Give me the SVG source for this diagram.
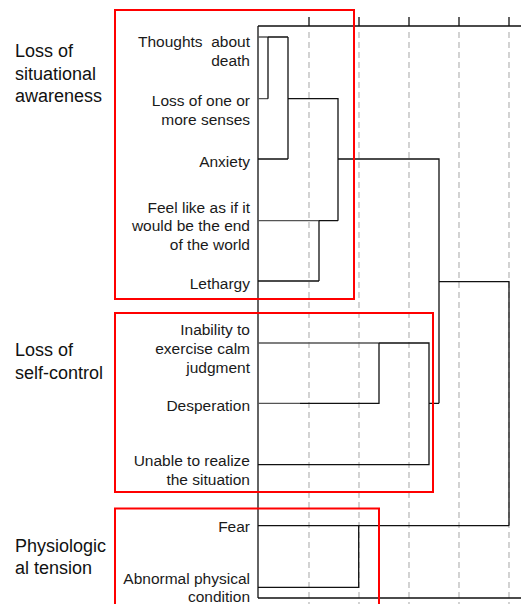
<svg xmlns="http://www.w3.org/2000/svg" width="521" height="604" viewBox="0 0 521 604">
<style>
.lbl{font-family:"Liberation Sans",Arial,sans-serif;font-size:15.5px;fill:#1a1a1a;text-anchor:end}
.grp{font-family:"Liberation Sans",Arial,sans-serif;font-size:18px;fill:#111}
.ln{fill:none;stroke:#111;stroke-width:1.3}
.lg{fill:none;stroke:#555;stroke-width:1.3}
.ax{fill:none;stroke:#111;stroke-width:1.3}
.dash{fill:none;stroke:#c8c8c8;stroke-width:1.6;stroke-dasharray:6 4}
.box{fill:none;stroke:#ff0000;stroke-width:2}
</style>
<rect width="521" height="604" fill="#fff"/>
<g id="grid">
<path class="dash" d="M309,32V604M359,32V604M409,32V604M459,32V604M509,32V604"/>
</g>
<g id="axes">
<path class="ax" d="M258,26V598M258,26H521M258,598H521"/>
<path class="ax" d="M309,17V26M359,17V26M409,17V26M459,17V26M509,17V26"/>
</g>
<g id="connectors">
<path class="lg" d="M258,37H268M258,98.7H268M258,220.7H319M258,343H379M258,403.3H300"/>
<path class="ln" d="M268,37H288M268,37V98.7M288,37V159M258,159H288M288,98.7H338V220.7M319,220.7H338M319,220.7V281M258,281H319"/>
<path class="ln" d="M338,159H439V403.3M439,281.7H509V525.7M258,525.7H509M358.7,525.7V587.3H258"/>
<path class="ln" d="M379,343H429V464.7H258M379,343V403.3H300M429,403.3H439"/>
</g>
<g id="group-situational">
<rect class="box" x="115" y="10" width="239" height="289"/>
<text class="grp" x="15" y="57">Loss of</text>
<text class="grp" x="15" y="79.5">situational</text>
<text class="grp" x="15" y="102">awareness</text>
</g>
<g id="group-selfcontrol">
<rect class="box" x="115" y="313" width="318" height="179"/>
<text class="grp" x="15" y="356">Loss of</text>
<text class="grp" x="15" y="378.5">self-control</text>
</g>
<g id="group-physio">
<rect class="box" x="115" y="508.5" width="264" height="100"/>
<text class="grp" x="15" y="552">Physiologic</text>
<text class="grp" x="15" y="574">al tension</text>
</g>
<g id="n-thoughts"><text class="lbl" x="250" y="47" xml:space="preserve">Thoughts  about</text><text class="lbl" x="250" y="66">death</text></g>
<g id="n-senses"><text class="lbl" x="250" y="106">Loss of one or</text><text class="lbl" x="250" y="125">more senses</text></g>
<g id="n-anxiety"><text class="lbl" x="250" y="167">Anxiety</text></g>
<g id="n-endworld"><text class="lbl" x="250" y="212.5">Feel like as if it</text><text class="lbl" x="250" y="231">would be the end</text><text class="lbl" x="250" y="249.5">of the world</text></g>
<g id="n-lethargy"><text class="lbl" x="250" y="289">Lethargy</text></g>
<g id="n-inability"><text class="lbl" x="250" y="335">Inability to</text><text class="lbl" x="250" y="354">exercise calm</text><text class="lbl" x="250" y="373">judgment</text></g>
<g id="n-desperation"><text class="lbl" x="250" y="411">Desperation</text></g>
<g id="n-unable"><text class="lbl" x="250" y="466">Unable to realize</text><text class="lbl" x="250" y="485">the situation</text></g>
<g id="n-fear"><text class="lbl" x="250" y="532">Fear</text></g>
<g id="n-abnormal"><text class="lbl" x="250" y="584">Abnormal physical</text><text class="lbl" x="250" y="602">condition</text></g>
</svg>
